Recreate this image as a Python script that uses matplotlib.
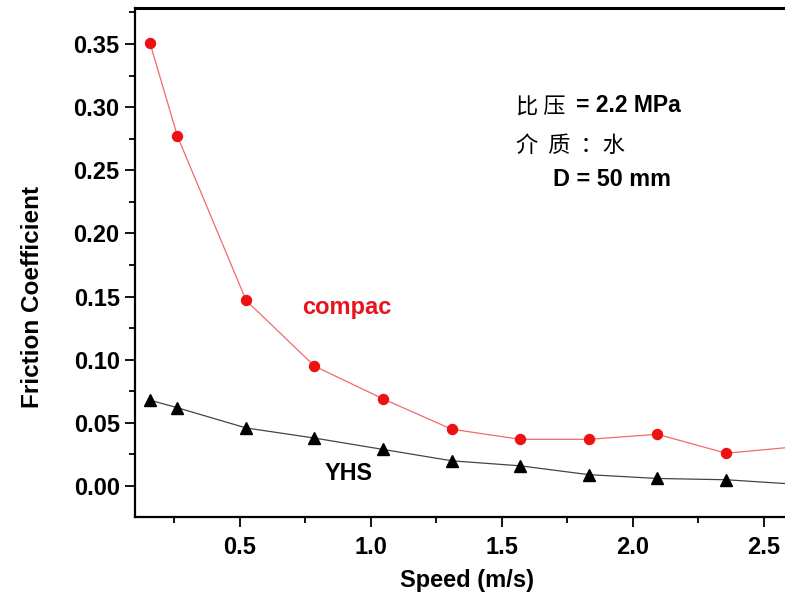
import matplotlib
matplotlib.use("Agg")
from matplotlib import pyplot as plt
from matplotlib.ticker import MultipleLocator, FormatStrFormatter

# speed (m/s) and friction coefficient
speed = [0.157, 0.262, 0.524, 0.785, 1.047, 1.309, 1.571, 1.833, 2.094, 2.356, 2.618]
compac = [0.351, 0.277, 0.147, 0.095, 0.069, 0.045, 0.037, 0.037, 0.041, 0.026, 0.031]
yhs = [0.068, 0.062, 0.046, 0.038, 0.029, 0.020, 0.016, 0.009, 0.006, 0.005, 0.0015]

cjk = ['Noto Sans CJK SC', 'DejaVu Sans']
latin = ['Liberation Sans', 'DejaVu Sans']
plt.rcParams['font.family'] = latin

W, H = 785, 596
fig = plt.figure(figsize=(W/100, H/100), dpi=100)

# axes runs off the right edge of the picture, like the cropped original
x0, x1 = 0.10, 2.70
left_px, bottom_px, top_px = 135, 517, 8
ax_w = (x1 - x0) * 262
ax = fig.add_axes([left_px/W, (H-bottom_px)/H, ax_w/W, (bottom_px-top_px)/H])

ax.plot(speed, compac, color='#f26a6a', lw=0.9, marker='o', ms=7.2,
        mfc='#ee1111', mec='#ee1111', zorder=3)
ax.plot(speed, yhs, color='#444444', lw=0.9, marker='^', ms=8,
        mfc='black', mec='black', zorder=3)

ax.set_xlim(x0, x1)
ax.set_ylim(-0.0245, 0.3785)

ax.xaxis.set_major_locator(MultipleLocator(0.5))
ax.xaxis.set_minor_locator(MultipleLocator(0.25))
ax.yaxis.set_major_locator(MultipleLocator(0.05))
ax.yaxis.set_minor_locator(MultipleLocator(0.025))
ax.xaxis.set_major_formatter(FormatStrFormatter('%.1f'))
ax.yaxis.set_major_formatter(FormatStrFormatter('%.2f'))

ax.tick_params(which='major', direction='out', length=7, width=1.3,
               labelsize=17, pad=4)
ax.tick_params(axis='x', which='major', pad=7)
ax.tick_params(which='minor', direction='out', length=4, width=1.3)
for lbl in ax.get_xticklabels() + ax.get_yticklabels():
    lbl.set_fontweight('bold')

for s in ['left', 'bottom', 'top']:
    ax.spines[s].set_linewidth(1.6)
ax.spines['top'].set_linewidth(2.2)
ax.spines['right'].set_visible(False)

fig.text(33/W, 1 - 297/H, 'Friction Coefficient', rotation=90, ha='center',
         va='center', fontsize=17.5, fontweight='bold')
fig.text(467/W, 1 - 581/H, 'Speed (m/s)', ha='center', va='center',
         fontsize=17, fontweight='bold')

# annotations
fig.text(516/W, 1 - 107/H, '比 压', family=cjk, fontsize=16,
         ha='left', va='center')
fig.text(576/W, 1 - 106/H, '= 2.2 MPa', fontsize=16.5, fontweight='bold',
         ha='left', va='center')
fig.text(516/W, 1 - 145/H, '介  质  ：水', family=cjk, fontsize=16,
         ha='left', va='center')
fig.text(553/W, 1 - 179/H, 'D = 50 mm', fontsize=16.8, fontweight='bold',
         ha='left', va='center')

ax.text(0.737, 0.1416, 'compac', color='#e8141c', fontsize=17,
        fontweight='bold', ha='left', va='center')
ax.text(0.825, 0.010, 'YHS', color='black', fontsize=16.8,
        fontweight='bold', ha='left', va='center')

fig.savefig('out.png', dpi=100)
